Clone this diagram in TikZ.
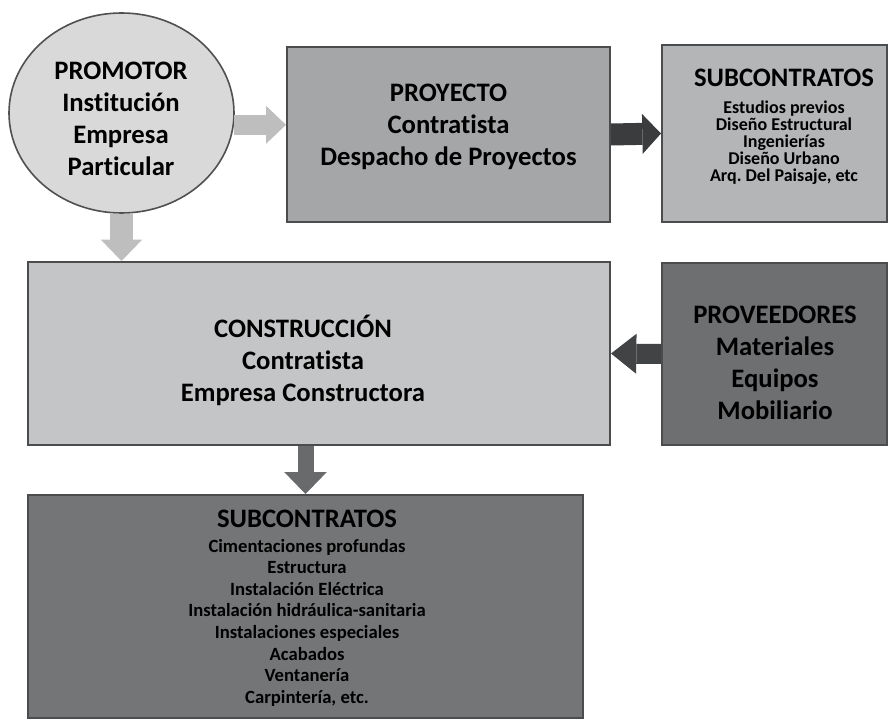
\documentclass[tikz,border=0pt]{standalone}
\usepackage{fontspec}
\setmainfont{Carlito}[Ligatures=NoCommon]
\usetikzlibrary{shapes.geometric,arrows.meta}

\frenchspacing
\newcommand{\tightlines}{\lineskiplimit=-30pt\relax}

\tikzset{every picture/.style={line width=0.75pt}}
\tikzset{
  box/.style={rectangle, draw={rgb, 255:red, 75; green, 76; blue, 78}, line width=1.5pt, inner sep=0pt},
  lbl/.style={inner sep=0.75pt, align=center, font=\bfseries\fontsize{20}{24}\selectfont},
  toplist/.style={inner sep=0.75pt, align=center, font=\bfseries\fontsize{13.5}{12.75}\selectfont\tightlines},
  botlist/.style={inner sep=0.75pt, align=center, font=\bfseries\fontsize{14}{16.2}\selectfont\tightlines},
  flow/.style n args={4}{draw={#1}, line width=#2, -{Triangle[length=#3, width=#4, line width=0pt]}},
}

\begin{document}
\begin{tikzpicture}[x=0.75pt,y=0.75pt,yscale=-1,xscale=1]
\useasboundingbox (0,0) rectangle (888,720);

%Shape: Ellipse [promotor]
\node[ellipse, draw={rgb, 255:red, 80; green, 80; blue, 80 }, line width=1.2pt, fill={rgb, 255:red, 217; green, 217; blue, 217 }, minimum width=168.75pt, minimum height=150pt, inner sep=0pt] (promotor) at (121.5,113) {};
%Shape: Rectangle [proyecto]
\node[box, fill={rgb, 255:red, 165; green, 166; blue, 168 }, minimum width=242.25pt, minimum height=131.25pt] (proyecto) at (448.5,134.5) {};
%Shape: Rectangle [subcontratos proyecto]
\node[box, fill={rgb, 255:red, 180; green, 181; blue, 183 }, minimum width=168.75pt, minimum height=132.75pt] (subproy) at (774.5,133.5) {};
%Shape: Rectangle [construccion]
\node[box, fill={rgb, 255:red, 196; green, 197; blue, 198 }, minimum width=436.5pt, minimum height=137.25pt] (construccion) at (319,353.5) {};
%Shape: Rectangle [proveedores]
\node[box, fill={rgb, 255:red, 110; green, 111; blue, 113 }, minimum width=168.75pt, minimum height=136.5pt] (proveedores) at (774.5,354) {};
%Shape: Rectangle [subcontratos obra]
\node[box, fill={rgb, 255:red, 115; green, 117; blue, 119 }, minimum width=416.25pt, minimum height=167.25pt] (subobra) at (305.5,606.5) {};

%Block Arrows
\draw[flow={rgb, 255:red, 190; green, 190; blue, 190 }{15pt}{15pt}{28.5pt}] (promotor.-6) -- (proyecto.west |- promotor.-6);
\draw[flow={rgb, 255:red, 190; green, 190; blue, 190 }{17pt}{16pt}{31pt}] (promotor.south) -- (promotor.south |- construccion.north);
\draw[flow={rgb, 255:red, 58; green, 60; blue, 62 }{16.5pt}{14pt}{30pt}] (proyecto.east) -- (subproy.west);
\draw[flow={rgb, 255:red, 65; green, 67; blue, 69 }{15pt}{19pt}{30pt}] (proveedores.west) -- (construccion.east);
\draw[flow={rgb, 255:red, 105; green, 106; blue, 108 }{12pt}{16.5pt}{32pt}] (construccion.south -| subobra.north) -- (subobra.north);

% Text Node
\node[lbl] (promotorLbl) at (121,118.5) {PROMOTOR\\Institución\\Empresa\\Particular};
% Text Node
\node[lbl] (proyectoLbl) at (448.5,126.5) {PROYECTO\\Contratista\\Despacho de Proyectos};
% Text Node
\node[toplist] (subproyLbl) at (784,127) {{\fontsize{20}{24}\selectfont SUBCONTRATOS}\\[7.5pt]Estudios previos\\Diseño Estructural\\Ingenierías\\Diseño Urbano\\Arq. Del Paisaje, etc};
% Text Node
\node[lbl] (construccionLbl) at (303,360) {CONSTRUCCIÓN\\Contratista\\Empresa Constructora};
% Text Node
\node[lbl] (proveedoresLbl) at (775,363) {PROVEEDORES\\Materiales\\Equipos\\Mobiliario};
% Text Node
\node[botlist] (subobraLbl) at (307,608) {{\fontsize{20}{24}\selectfont SUBCONTRATOS}\\[2.5pt]Cimentaciones profundas\\Estructura\\Instalación Eléctrica\\Instalación hidráulica-sanitaria\\Instalaciones especiales\\Acabados\\Ventanería\\Carpintería, etc.};

\end{tikzpicture}
\end{document}
